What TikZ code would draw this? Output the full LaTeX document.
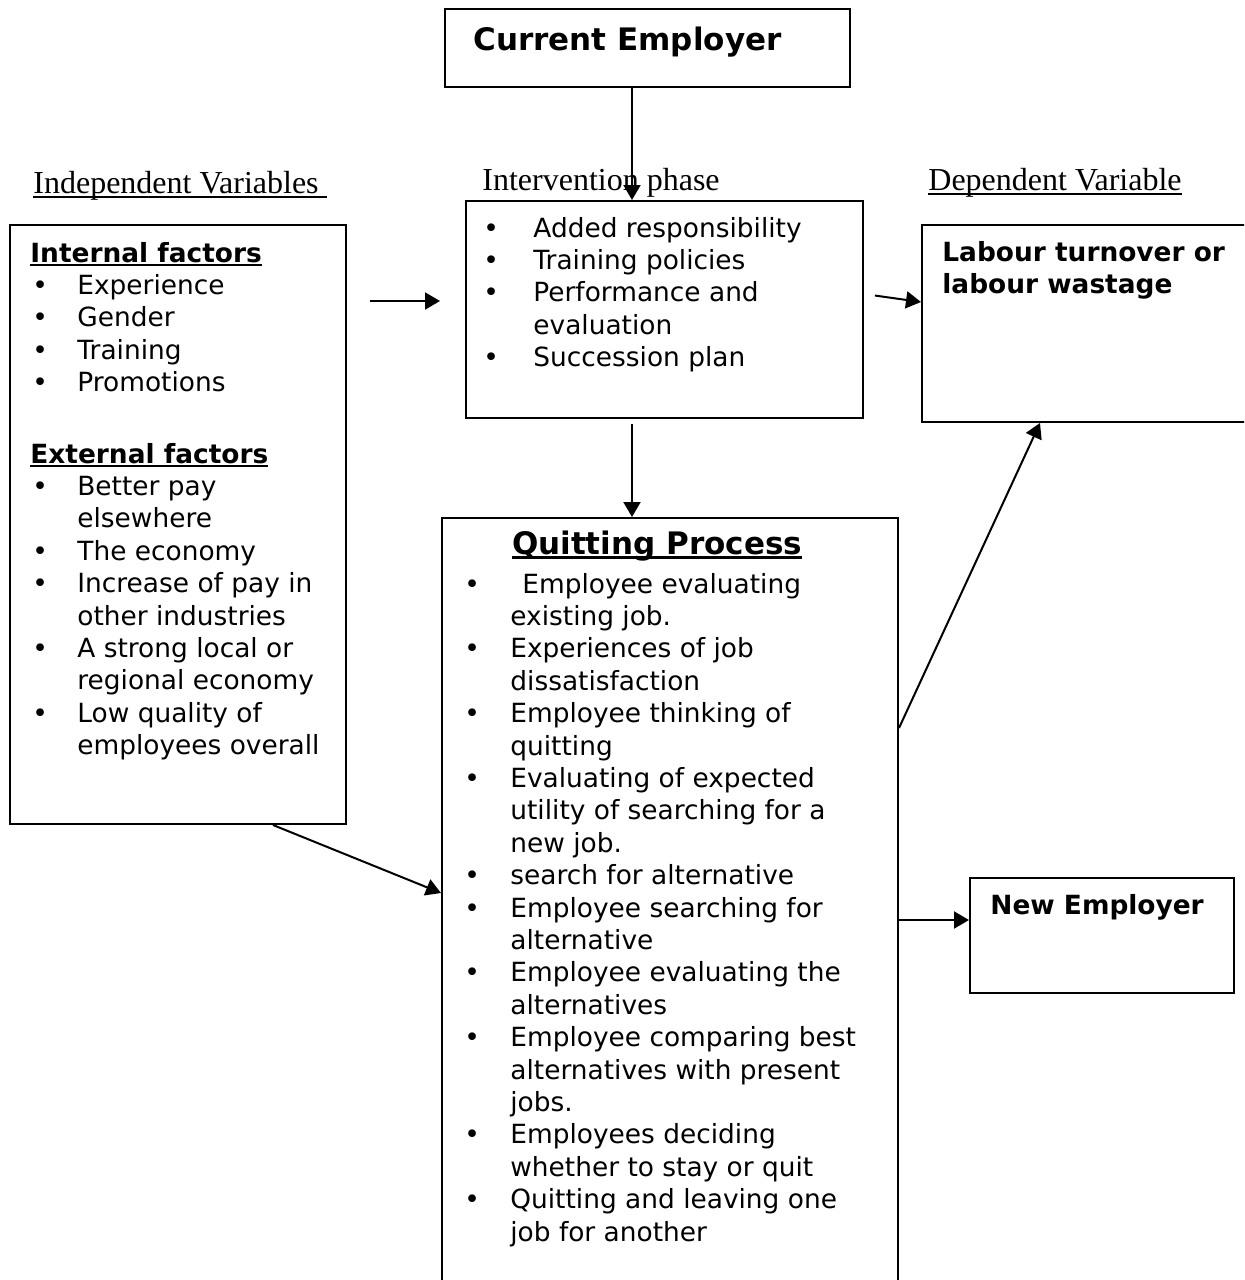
\documentclass[tikz,border=0pt]{standalone}
\usepackage{fontspec}
\setmainfont{DejaVu Sans}
\newfontfamily\timesfont{Liberation Serif}
\usetikzlibrary{arrows.meta}

% underlined text, rule just under the baseline
\newcommand{\ulbox}[1]{\leavevmode\setbox0=\hbox{#1}\rlap{\rule[-0.16em]{\wd0}{0.08em}}\box0}
% one bulleted item with hanging lines
\newcommand{\bitem}[2][23.5pt]{\par\hangindent=#1\hangafter=1\noindent\makebox[#1][l]{\hspace{1pt}\textbullet}#2}
\newcommand{\blist}[2]{\begin{minipage}[t]{#1}\parindent=0pt #2\end{minipage}}

\begin{document}
\begin{tikzpicture}[
  x=0.5pt,
  y=-0.5pt,
  box/.style={draw, line width=1pt, inner sep=0pt, anchor=north west},
  body/.style={anchor=base west, inner sep=0pt, font=\fontsize{13.2}{16.2}\selectfont},
  bodybf/.style={body, font=\fontsize{13.2}{16.2}\selectfont\bfseries},
  title/.style={inner sep=0pt, font=\fontsize{15.5}{18}\selectfont\bfseries},
  head/.style={anchor=base west, inner sep=0pt, font=\timesfont\fontsize{16}{19}\selectfont},
  arr/.style={-{Triangle[length=7.5pt,width=8.5pt]}, line width=1pt}
]
\useasboundingbox (0,0) rectangle (1244,1280);
\clip (0,0) rectangle (1244,1280);

% boxes
\node[box, minimum width=202.5pt, minimum height=39pt] (cur) at (444,8) {};
\node[box, minimum width=168pt, minimum height=299.5pt] (indep) at (9,224) {};
\node[box, minimum width=198.5pt, minimum height=108.5pt] (inter) at (465,200) {};
\node[box, minimum width=174.5pt, minimum height=98.5pt] (labour) at (921,224) {};
\node[box, minimum width=228pt, minimum height=391.5pt] (quit) at (441,517) {};
\node[box, minimum width=132pt, minimum height=57.5pt] (newemp) at (969,877) {};

% column headings
\node[head] (hindep) at (33,193) {\ulbox{Independent Variables\ }};
\node[head] (hinter) at (482,190) {Intervention phase};
\node[head] (hdep) at (928,190) {\ulbox{Dependent Variable}};

% box texts
\node[title, anchor=base west] (curtxt) at (473,50) {Current Employer};

\node[body] (indeptxt) at (30,262) {\blist{170pt}{%
  {\bfseries\ulbox{Internal factors}}
  \bitem{Experience}
  \bitem{Gender}
  \bitem{Training}
  \bitem{Promotions}\par\vspace{19.5pt}
  {\bfseries\ulbox{External factors}}
  \bitem{Better pay\\elsewhere}
  \bitem{The economy}
  \bitem{Increase of pay in\\other industries}
  \bitem{A strong local or\\regional economy}
  \bitem{Low quality of\\employees overall}}};

\node[body] (intertxt) at (481,237) {\blist{195pt}{%
  \bitem[26pt]{Added responsibility}
  \bitem[26pt]{Training policies}
  \bitem[26pt]{Performance and\\evaluation}
  \bitem[26pt]{Succession plan}}};

\node[bodybf] (labtxt) at (942,261) {\blist{160pt}{Labour turnover or\\labour wastage}};
\node[bodybf] (newtxt) at (990,914) {New Employer};

\node[title, anchor=base] (quittitle) at (657,554) {\ulbox{Quitting Process}};
\node[body] (quittxt) at (462,593) {\blist{215pt}{%
  \bitem[24pt]{\hspace{6pt}Employee evaluating\\existing job.}
  \bitem[24pt]{Experiences of job\\dissatisfaction}
  \bitem[24pt]{Employee thinking of\\quitting}
  \bitem[24pt]{Evaluating of expected\\utility of searching for a\\new job.}
  \bitem[24pt]{search for alternative}
  \bitem[24pt]{Employee searching for\\alternative}
  \bitem[24pt]{Employee evaluating the\\alternatives}
  \bitem[24pt]{Employee comparing best\\alternatives with present\\jobs.}
  \bitem[24pt]{Employees deciding\\whether to stay or quit}
  \bitem[24pt]{Quitting and leaving one\\job for another}}};

% connectors
\draw[arr] (632,0 |- cur.south) -- (632,0 |- inter.north);
\draw[arr, shorten <=11.5pt, shorten >=12.5pt] (indep.east |- 0,301) -- (inter.west |- 0,301);
\draw[arr, shorten <=5.5pt] (inter.east |- 0,294) -- (labour.west |- 0,302);
\draw[arr, shorten <=2.5pt] (632,0 |- inter.south) -- (632,0 |- quit.north);
\draw[arr] (273,0 |- indep.south) -- (quit.west |- 0,893);
\draw[arr] (quit.east |- 0,728) -- (1040,0 |- labour.south);
\draw[arr] (quit.east |- 0,920) -- (newemp.west |- 0,920);
\end{tikzpicture}
\end{document}
